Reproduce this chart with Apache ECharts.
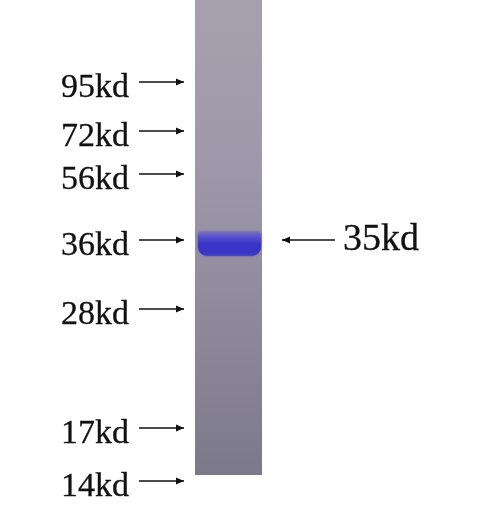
<!DOCTYPE html>
<html>
<head>
<meta charset="utf-8">
<title>SDS-PAGE</title>
<style>
  html, body { margin: 0; padding: 0; background: #fff; }
  #gel { width: 480px; height: 509px; }
</style>
<script src="https://cdn.jsdelivr.net/npm/echarts@6/dist/echarts.min.js"></script>
</head>
<body>
<div id="gel"></div>
<script>
// marker ladder: label and migration position (px from top of the gel)
var markerLabels = ['95kd', '72kd', '56kd', '36kd', '28kd', '17kd', '14kd'];
var markerPos = [82, 131, 174, 240, 309, 428, 481];

// target protein band
var bandLabel = '35kd';
var bandPos = 240;

// length the lane runs
var laneEnd = 475;

// layout (x positions)
var laneLeft = 195, laneRight = 262;
var textLeft = 61, arrowFrom = 139, arrowTo = 184;
var font = '"Liberation Serif", "Times New Roman", serif';

function arrowShape(api, x1, x2, y, headLeft) {
  var a = api.coord([x1, y]), b = api.coord([x2, y]);
  var tip = headLeft ? a : b;
  var d = headLeft ? 1 : -1;
  return [
    { type: 'line', shape: { x1: a[0], y1: a[1], x2: b[0], y2: b[1] },
      style: { stroke: '#111', lineWidth: 1.4 } },
    { type: 'polygon', shape: { points: [
        [tip[0], tip[1]], [tip[0] + d * 8, tip[1] - 3.5], [tip[0] + d * 8, tip[1] + 3.5]] },
      style: { fill: '#111' } }
  ];
}

var chart = echarts.init(document.getElementById('gel'), null, { renderer: 'canvas' });

chart.setOption({
  animation: false,
  backgroundColor: '#fff',
  grid: { left: 0, right: 0, top: 0, bottom: 0 },
  xAxis: { type: 'value', min: 0, max: 480, show: false },
  yAxis: { type: 'value', min: 0, max: 509, inverse: true, show: false },
  series: [
    {
      // the lane
      type: 'custom',
      data: [[laneLeft, laneEnd]],
      renderItem: function (params, api) {
        var p0 = api.coord([laneLeft, 0]);
        var p1 = api.coord([laneRight, api.value(1)]);
        return {
          type: 'rect',
          shape: { x: p0[0], y: p0[1], width: p1[0] - p0[0], height: p1[1] - p0[1] },
          style: {
            fill: new echarts.graphic.LinearGradient(0, 0, 0, 1, [
              { offset: 0, color: '#a6a0ae' },
              { offset: 0.35, color: '#9e98aa' },
              { offset: 0.7, color: '#8c889a' },
              { offset: 1, color: '#7c798a' }
            ])
          }
        };
      }
    },
    {
      // the band
      type: 'custom',
      data: [[laneLeft, bandPos]],
      renderItem: function (params, api) {
        var y = api.value(1);
        var p0 = api.coord([laneLeft + 3, y - 9]);
        var p1 = api.coord([laneRight - 1, y + 16]);
        return {
          type: 'rect',
          shape: { x: p0[0], y: p0[1], width: p1[0] - p0[0], height: p1[1] - p0[1], r: [3, 3, 9, 9] },
          style: {
            fill: new echarts.graphic.LinearGradient(0, 0, 0, 1, [
              { offset: 0, color: 'rgba(110,100,200,0.35)' },
              { offset: 0.25, color: '#5550cc' },
              { offset: 0.5, color: '#3b34c9' },
              { offset: 0.85, color: '#3a33c6' },
              { offset: 1, color: '#4a44bf' }
            ]),
            shadowBlur: 3,
            shadowColor: 'rgba(60,52,200,0.6)'
          }
        };
      }
    },
    {
      // ladder labels and arrows
      type: 'custom',
      data: markerPos.map(function (p, i) { return [i, p]; }),
      renderItem: function (params, api) {
        var i = api.value(0), y = api.value(1);
        var t = api.coord([textLeft, y + 6]);
        var kids = arrowShape(api, arrowFrom, arrowTo, y, false);
        kids.push({
          type: 'text',
          style: {
            text: markerLabels[i], x: t[0], y: t[1],
            align: 'left', verticalAlign: 'middle',
            font: '34px ' + font, fill: '#111',
            stroke: '#111', lineWidth: 0.3
          }
        });
        return { type: 'group', children: kids };
      }
    },
    {
      // target label
      type: 'custom',
      data: [[0, bandPos]],
      renderItem: function (params, api) {
        var y = api.value(1);
        var t = api.coord([343, y]);
        var kids = arrowShape(api, 282, 335, y, true);
        kids.push({
          type: 'text',
          style: {
            text: bandLabel, x: t[0], y: t[1],
            align: 'left', verticalAlign: 'middle',
            font: '38px ' + font, fill: '#111',
            stroke: '#111', lineWidth: 0.3
          }
        });
        return { type: 'group', children: kids };
      }
    }
  ]
});
</script>
</body>
</html>
